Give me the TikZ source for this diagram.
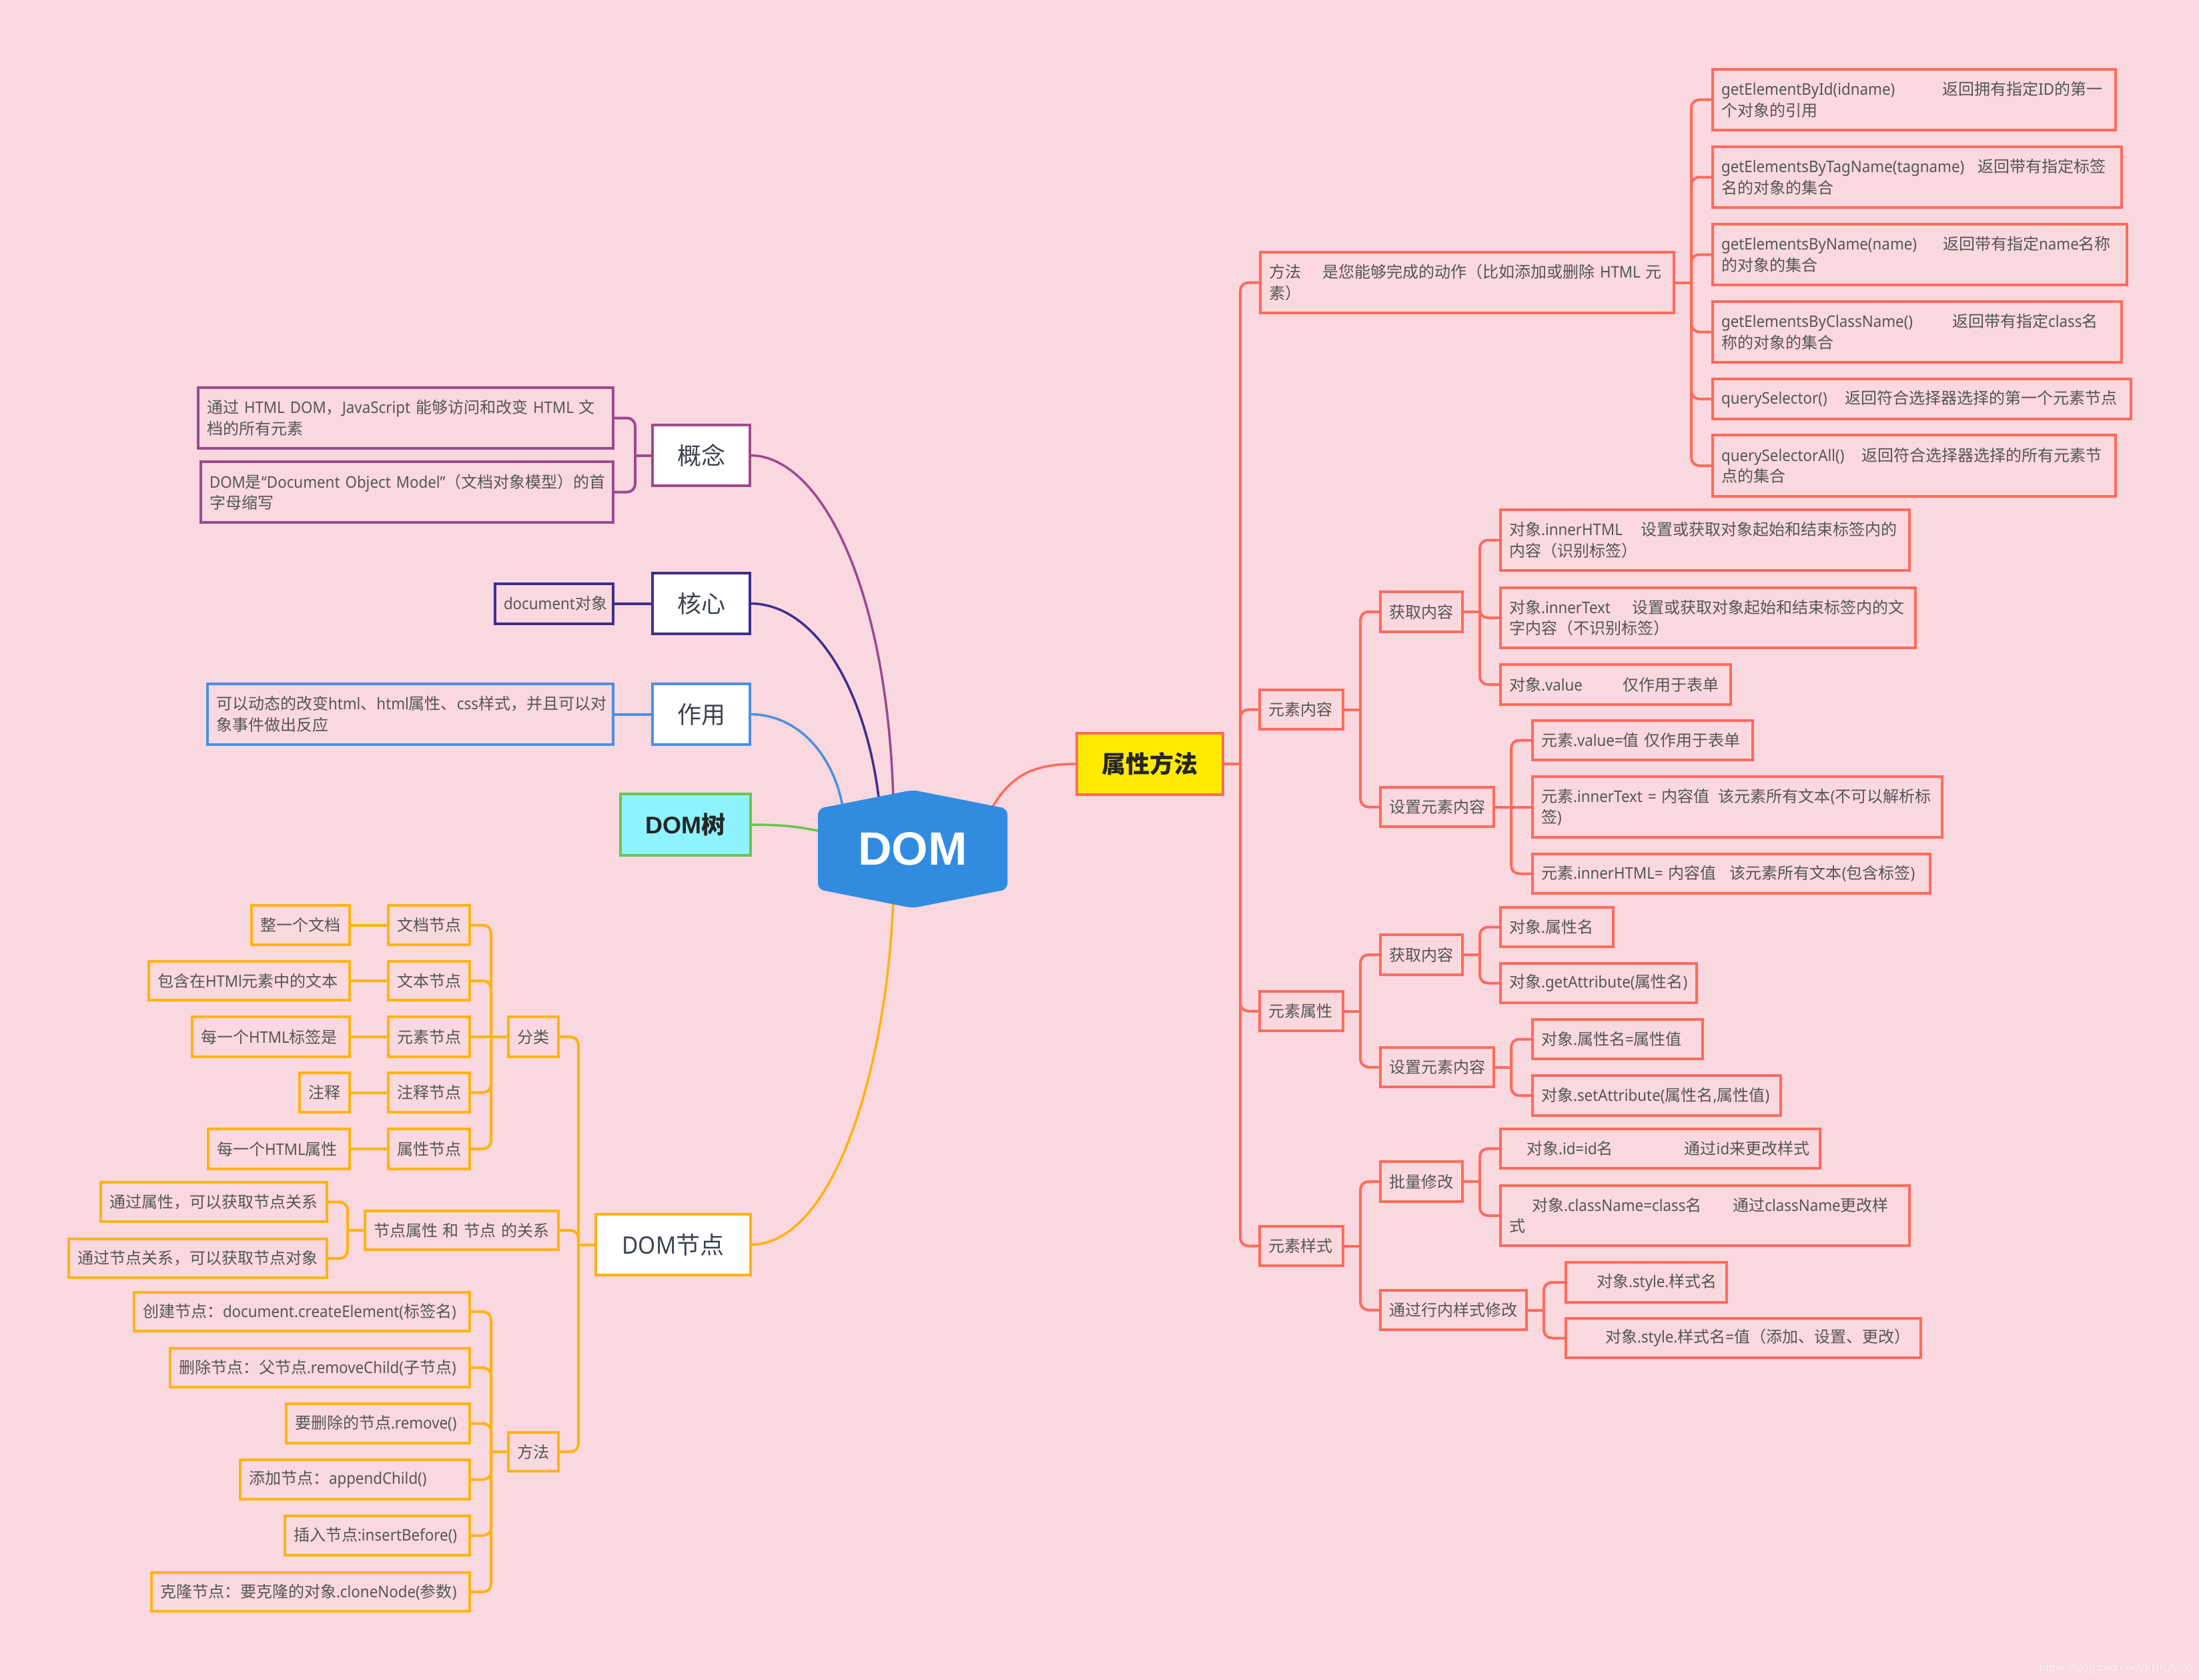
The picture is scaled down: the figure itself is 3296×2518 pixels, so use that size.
\documentclass[tikz,border=0pt]{standalone}
\usepackage{fontspec}
\setmainfont[FakeStretch=0.93]{Noto Sans}
\newfontfamily\latfont[FakeStretch=0.93]{Noto Sans}
\newfontfamily\cjkfont{Noto Sans CJK SC}
\newfontfamily\arialfont{Liberation Sans}
% switch to the CJK font for CJK characters
\XeTeXinterchartokenstate=1
\newXeTeXintercharclass\cjkcls
\newcount\cjkcnt
\cjkcnt="4E00 \loop\ifnum\cjkcnt<"A000 \XeTeXcharclass\cjkcnt=\cjkcls \advance\cjkcnt by 1 \repeat
\cjkcnt="3000 \loop\ifnum\cjkcnt<"3040 \XeTeXcharclass\cjkcnt=\cjkcls \advance\cjkcnt by 1 \repeat
\cjkcnt="FF00 \loop\ifnum\cjkcnt<"FFF0 \XeTeXcharclass\cjkcnt=\cjkcls \advance\cjkcnt by 1 \repeat
\XeTeXinterchartoks 0 \cjkcls = {\cjkfont}
\XeTeXinterchartoks 4095 \cjkcls = {\cjkfont}
\XeTeXinterchartoks \cjkcls 0 = {\latfont}
\XeTeXinterchartoks \cjkcls 4095 = {\latfont}

\definecolor{bg}{HTML}{F9D8DF}
\definecolor{coral}{HTML}{FF6B5B}
\definecolor{purp}{HTML}{9C4A8E}
\definecolor{indig}{HTML}{3F2D8F}
\definecolor{bluec}{HTML}{4A90E2}
\definecolor{greenc}{HTML}{6CC450}
\definecolor{cyanc}{HTML}{8FF3FF}
\definecolor{orangec}{HTML}{FFB30F}
\definecolor{domblue}{HTML}{318CE0}
\definecolor{yellowc}{HTML}{FFEB00}
\definecolor{txt}{HTML}{555555}
\definecolor{htxt}{HTML}{3C4250}
\newcommand\fsA{\fontsize{24}{31.5}\selectfont}
\newcommand\fsB{\fontsize{36}{42}\selectfont}
\newcommand\nb[1]{\mbox{#1}}

\begin{document}
\begin{tikzpicture}[x=1pt, y=-1pt,
  conn/.style={line width=4pt},
  tree/.style={line width=4pt, rounded corners=12pt},
  leaf/.style={draw=#1, line width=4pt, fill=bg, text=txt, font=\fsA, align=left, inner xsep=13pt, inner ysep=0pt, outer sep=0pt},
  head/.style 2 args={draw=#1, line width=4pt, fill=#2, text=htxt, font=\fsB, inner sep=0pt, outer sep=0pt},
  boxw/.style={text width=#1pt},
  boxh/.style={minimum height=#1pt},
  minw/.style={minimum width=#1pt},
]
\fill[bg] (0,0) rectangle (3296,2518);
\useasboundingbox (0,0) rectangle (3296,2518);

% ---------------- right branch: 属性方法 ----------------
\node[head={coral}{yellowc}, font=\fsB\bfseries, text=black!85, minw=219, boxh=92] (attr) at (1723.5,1145) {属性方法};

\node[leaf=coral, boxw=594, boxh=91] (m) at (2199,423.5) {\nb{方法\hspace{32pt}是您能够完成的动作（比如添加或删除 HTML 元}\\\nb{素）}};
\node[leaf=coral, boxw=578, boxh=91] (m1) at (2869,149.5) {\nb{getElementById(idname)\hspace{71pt}返回拥有指定ID的第一}\\\nb{个对象的引用}};
\node[leaf=coral, boxw=587, boxh=91] (m2) at (2873.5,265.5) {\nb{getElementsByTagName(tagname)\hspace{20pt}返回带有指定标签}\\\nb{名的对象的集合}};
\node[leaf=coral, boxw=595, boxh=91] (m3) at (2877.5,381.5) {\nb{getElementsByName(name)\hspace{39pt}返回带有指定name名称}\\\nb{的对象的集合}};
\node[leaf=coral, boxw=587, boxh=91] (m4) at (2873.5,497.5) {\nb{getElementsByClassName()\hspace{59pt}返回带有指定class名}\\\nb{称的对象的集合}};
\node[leaf=coral, boxw=601, boxh=60] (m5) at (2880.5,598) {\nb{querySelector()\hspace{27pt}返回符合选择器选择的第一个元素节点}};
\node[leaf=coral, boxw=578, boxh=92] (m6) at (2869,698) {\nb{querySelectorAll()\hspace{26pt}返回符合选择器选择的所有元素节}\\\nb{点的集合}};

\node[leaf=coral, boxw=99, boxh=59] (ec) at (1950.5,1063.5) {\nb{元素内容}};
\node[leaf=coral, boxw=97, boxh=60] (ec1) at (2130.5,917) {\nb{获取内容}};
\node[leaf=coral, boxw=144, boxh=59] (ec2) at (2154,1209.5) {\nb{设置元素内容}};
\node[leaf=coral, boxw=587, boxh=91] (ec11) at (2555.5,809.5) {\nb{对象.innerHTML\hspace{27pt}设置或获取对象起始和结束标签内的}\\\nb{内容（识别标签）}};
\node[leaf=coral, boxw=596, boxh=90] (ec12) at (2560,926) {\nb{对象.innerText\hspace{32pt}设置或获取对象起始和结束标签内的文}\\\nb{字内容（不识别标签）}};
\node[leaf=coral, boxw=319, boxh=60] (ec13) at (2421.5,1026) {\nb{对象.value\hspace{60pt}仅作用于表单}};
\node[leaf=coral, boxw=304, boxh=59] (ec21) at (2462,1109.5) {\nb{元素.value=值 仅作用于表单}};
\node[leaf=coral, boxw=588, boxh=91] (ec22) at (2604,1209.5) {\nb{元素.innerText = 内容值\hspace{13pt}该元素所有文本(不可以解析标}\\\nb{签)}};
\node[leaf=coral, boxw=570, boxh=59] (ec23) at (2595,1309.5) {\nb{元素.innerHTML= 内容值\hspace{20pt}该元素所有文本(包含标签)}};

\node[leaf=coral, boxw=99, boxh=59] (ea) at (1950.5,1515.5) {\nb{元素属性}};
\node[leaf=coral, boxw=97, boxh=60] (ea1) at (2130.5,1431) {\nb{获取内容}};
\node[leaf=coral, boxw=144, boxh=59] (ea2) at (2154,1599.5) {\nb{设置元素内容}};
\node[leaf=coral, boxw=143, boxh=59] (ea11) at (2333.5,1389.5) {\nb{对象.属性名}};
\node[leaf=coral, boxw=268, boxh=59] (ea12) at (2396,1473.5) {\nb{对象.getAttribute(属性名)}};
\node[leaf=coral, boxw=229, boxh=59] (ea21) at (2424.5,1557.5) {\nb{对象.属性名=属性值}};
\node[leaf=coral, boxw=346, boxh=60] (ea22) at (2483,1642) {\nb{对象.setAttribute(属性名,属性值)}};

\node[leaf=coral, boxw=99, boxh=59] (es) at (1950.5,1867.5) {\nb{元素样式}};
\node[leaf=coral, boxw=97, boxh=60] (es1) at (2130.5,1771) {\nb{批量修改}};
\node[leaf=coral, boxw=193, boxh=59] (es2) at (2178.5,1963.5) {\nb{通过行内样式修改}};
\node[leaf=coral, boxw=453, boxh=59] (es11) at (2488.5,1721.5) {\nb{\hspace*{26pt}对象.id=id名\hspace{107pt}通过id来更改样式}};
\node[leaf=coral, boxw=587, boxh=90] (es12) at (2555.5,1822) {\nb{\hspace*{34pt}对象.className=class名\hspace{47pt}通过className更改样}\\\nb{式}};
\node[leaf=coral, boxw=215, boxh=60] (es21) at (2467.5,1922) {\nb{\hspace*{33pt}对象.style.样式名}};
\node[leaf=coral, boxw=506, boxh=59] (es22) at (2613,2005.5) {\nb{\hspace*{46pt}对象.style.样式名=值（添加、设置、更改）}};

% ---------------- left branches ----------------
\node[head={purp}{white}, minw=146, boxh=91] (gn) at (1051,682.5) {概念};
\node[leaf=purp, boxw=596, boxh=91] (gn1) at (608,626.5) {\nb{通过 HTML DOM，JavaScript 能够访问和改变 HTML 文}\\\nb{档的所有元素}};
\node[leaf=purp, boxw=592, boxh=91] (gn2) at (610,737.5) {\nb{DOM是“Document Object Model”（文档对象模型）的首}\\\nb{字母缩写}};

\node[head={indig}{white}, minw=146, boxh=91] (hx) at (1051,904.5) {核心};
\node[leaf=indig, boxw=151, boxh=60] (hx1) at (830.5,904.5) {\nb{document对象}};

\node[head={bluec}{white}, minw=146, boxh=91] (zy) at (1051,1070.5) {作用};
\node[leaf=bluec, boxw=582, boxh=91] (zy1) at (615,1070.5) {\nb{可以动态的改变html、html属性、css样式，并且可以对}\\\nb{象事件做出反应}};

\node[head={greenc}{cyanc}, font=\fsB\bfseries, text=black!85, minw=195, boxh=92] (tree) at (1027.5,1236) {{\arialfont DOM}树};

\node[head={orangec}{white}, minw=232, boxh=91] (dn) at (1009,1865.5) {DOM节点};

\node[leaf=orangec, boxw=49, boxh=60] (fl) at (799.5,1554) {\nb{分类}};
\node[leaf=orangec, boxw=96, boxh=59] (fl1) at (643,1386.5) {\nb{文档节点}};
\node[leaf=orangec, boxw=96, boxh=58] (fl2) at (643,1470) {\nb{文本节点}};
\node[leaf=orangec, boxw=96, boxh=60] (fl3) at (643,1554) {\nb{元素节点}};
\node[leaf=orangec, boxw=96, boxh=59] (fl4) at (643,1637.5) {\nb{注释节点}};
\node[leaf=orangec, boxw=96, boxh=60] (fl5) at (643,1722) {\nb{属性节点}};
\node[leaf=orangec, boxw=121, boxh=59] (lf1) at (450.5,1386.5) {\nb{整一个文档}};
\node[leaf=orangec, boxw=275, boxh=58] (lf2) at (373.5,1470) {\nb{包含在HTMl元素中的文本}};
\node[leaf=orangec, boxw=210, boxh=60] (lf3) at (406,1554) {\nb{每一个HTML标签是}};
\node[leaf=orangec, boxw=49, boxh=59] (lf4) at (486.5,1637.5) {\nb{注释}};
\node[leaf=orangec, boxw=186, boxh=60] (lf5) at (418,1722) {\nb{每一个HTML属性}};

\node[leaf=orangec, boxw=264, boxh=58] (gx) at (692,1844) {\nb{节点属性 和 节点 的关系}};
\node[leaf=orangec, boxw=313, boxh=59] (gx1) at (320.5,1801.5) {\nb{通过属性，可以获取节点关系}};
\node[leaf=orangec, boxw=361, boxh=58] (gx2) at (296.5,1886) {\nb{通过节点关系，可以获取节点对象}};

\node[leaf=orangec, boxw=49, boxh=58] (ff) at (799.5,2176) {\nb{方法}};
\node[leaf=orangec, boxw=477, boxh=58] (ff1) at (452.5,1966) {\nb{创建节点：document.createElement(标签名)}};
\node[leaf=orangec, boxw=423, boxh=58] (ff2) at (479.5,2050) {\nb{删除节点：父节点.removeChild(子节点)}};
\node[leaf=orangec, boxw=249, boxh=59] (ff3) at (566.5,2133.5) {\nb{要删除的节点.remove()}};
\node[leaf=orangec, boxw=318, boxh=59] (ff4) at (532,2217.5) {\nb{添加节点：appendChild()}};
\node[leaf=orangec, boxw=251, boxh=59] (ff5) at (565.5,2301.5) {\nb{插入节点:insertBefore()}};
\node[leaf=orangec, boxw=451, boxh=58] (ff6) at (465.5,2386) {\nb{克隆节点：要克隆的对象.cloneNode(参数)}};

% ---------------- tree connectors ----------------
\draw[tree,coral] (attr.east) -- ++(26,0) coordinate (attr-j);
\foreach \c in {m,ec,ea,es} \draw[tree,coral] (attr-j) |- (\c.west);
\draw[tree,coral] (m.east) -- ++(26,0) coordinate (m-j);
\foreach \c in {m1,m2,m3,m4,m5,m6} \draw[tree,coral] (m-j) |- (\c.west);
\draw[tree,coral] (ec.east) -- ++(26,0) coordinate (ec-j);
\foreach \c in {ec1,ec2} \draw[tree,coral] (ec-j) |- (\c.west);
\draw[tree,coral] (ec1.east) -- ++(26,0) coordinate (ec1-j);
\foreach \c in {ec11,ec12,ec13} \draw[tree,coral] (ec1-j) |- (\c.west);
\draw[tree,coral] (ec2.east) -- ++(26,0) coordinate (ec2-j);
\foreach \c in {ec21,ec23} \draw[tree,coral] (ec2-j) |- (\c.west);
\draw[conn,coral] (ec2-j) -- (ec22.west);
\draw[tree,coral] (ea.east) -- ++(26,0) coordinate (ea-j);
\foreach \c in {ea1,ea2} \draw[tree,coral] (ea-j) |- (\c.west);
\draw[tree,coral] (ea1.east) -- ++(26,0) coordinate (ea1-j);
\foreach \c in {ea11,ea12} \draw[tree,coral] (ea1-j) |- (\c.west);
\draw[tree,coral] (ea2.east) -- ++(26,0) coordinate (ea2-j);
\foreach \c in {ea21,ea22} \draw[tree,coral] (ea2-j) |- (\c.west);
\draw[tree,coral] (es.east) -- ++(26,0) coordinate (es-j);
\foreach \c in {es1,es2} \draw[tree,coral] (es-j) |- (\c.west);
\draw[tree,coral] (es1.east) -- ++(26,0) coordinate (es1-j);
\foreach \c in {es11,es12} \draw[tree,coral] (es1-j) |- (\c.west);
\draw[tree,coral] (es2.east) -- ++(26,0) coordinate (es2-j);
\foreach \c in {es21,es22} \draw[tree,coral] (es2-j) |- (\c.west);

\draw[tree,purp] (gn.west) -- ++(-26,0) coordinate (gn-j);
\foreach \c in {gn1,gn2} \draw[tree,purp] (gn-j) |- (\c.east);
\draw[conn,indig] (hx.west) -- (hx1.east);
\draw[conn,bluec] (zy.west) -- (zy1.east);

\draw[tree,orangec] (dn.west) -- ++(-26,0) coordinate (dn-j);
\foreach \c in {fl,gx,ff} \draw[tree,orangec] (dn-j) |- (\c.east);
\draw[tree,orangec] (fl.west) -- ++(-26,0) coordinate (fl-j);
\foreach \c in {fl1,fl2,fl4,fl5} \draw[tree,orangec] (fl-j) |- (\c.east);
\draw[conn,orangec] (fl-j) -- (fl3.east);
\foreach \a/\b in {fl1/lf1,fl2/lf2,fl3/lf3,fl4/lf4,fl5/lf5} \draw[conn,orangec] (\a.west) -- (\b.east);
\draw[tree,orangec] (gx.west) -- ++(-26,0) coordinate (gx-j);
\foreach \c in {gx1,gx2} \draw[tree,orangec] (gx-j) |- (\c.east);
\draw[tree,orangec] (ff.west) -- ++(-26,0) coordinate (ff-j);
\foreach \c in {ff1,ff2,ff3,ff4,ff5,ff6} \draw[tree,orangec] (ff-j) |- (\c.east);

% ---------------- central topic ----------------
\coordinate (hp) at (1339,1200);
\coordinate (hi) at (1318,1204);
\coordinate (hb) at (1264,1214);
\coordinate (hg) at (1236,1247);
\coordinate (hr) at (1484,1216);
\coordinate (ho) at (1339,1345);
\draw[line width=3.5pt,purp] (gn.east) .. controls (1230,682.5) and (1330,880) .. (hp);
\draw[line width=3.5pt,indig] (hx.east) .. controls (1225,904.5) and (1300,1040) .. (hi);
\draw[line width=3.5pt,bluec] (zy.east) .. controls (1195,1070.5) and (1250,1130) .. (hb);
\draw[line width=3.5pt,greenc] (tree.east) .. controls (1180,1236) and (1200,1240) .. (hg);
\draw[line width=3.5pt,orangec] (ho) .. controls (1330,1600) and (1250,1865.5) .. (dn.east);
\draw[line width=3.5pt,coral] (hr) .. controls (1515,1160) and (1550,1145) .. (attr.west);

\fill[domblue, rounded corners=9pt] (1368,1184) -- (1510,1212) -- (1510,1333) -- (1368,1361) -- (1226,1333) -- (1226,1212) -- cycle;
\node[font=\arialfont\bfseries\fontsize{70}{70}\selectfont, text=white, inner sep=0pt] (dom) at (1368,1272) {DOM};

\node[font=\arialfont\fontsize{17}{17}\selectfont, text=white!55!bg, anchor=base east, inner sep=0pt] (wm) at (3286,2505) {https://blog.csdn.net/KBK2020};
\end{tikzpicture}
\end{document}
